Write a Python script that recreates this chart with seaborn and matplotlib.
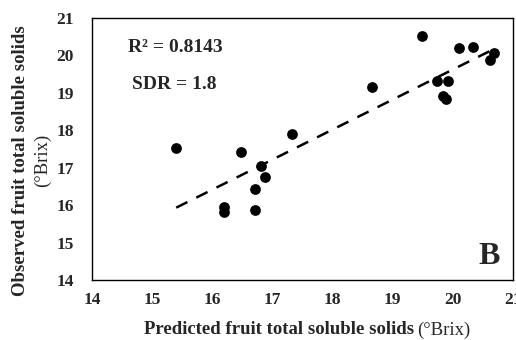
import matplotlib
matplotlib.use("Agg")
import matplotlib.pyplot as plt
import seaborn as sns
import pandas as pd

predicted = [15.40, 16.47, 17.32, 16.81, 16.88, 16.71, 16.71, 16.20, 16.20, 18.66,
             19.49, 19.73, 19.92, 19.84, 19.88, 20.11, 20.33, 20.62, 20.69]
observed = [17.52, 17.41, 17.89, 17.05, 16.74, 16.44, 15.87, 15.94, 15.83, 19.16,
            20.52, 19.32, 19.32, 18.91, 18.84, 20.21, 20.23, 19.89, 20.06]
x_ticks = [14, 15, 16, 17, 18, 19, 20, 21]
y_ticks = [14, 15, 16, 17, 18, 19, 20, 21]

df = pd.DataFrame({"predicted": predicted, "observed": observed})

sns.set_style("white")
plt.rcParams["font.family"] = ["Liberation Serif", "DejaVu Serif"]

fig = plt.figure(figsize=(5.16, 3.40), dpi=100)
ax = fig.add_axes([92/516, 60/340, (513-92)/516, (280-18)/340])

sns.regplot(data=df, x="predicted", y="observed", ax=ax, ci=None, truncate=True,
            scatter_kws=dict(s=60, color="black", edgecolor="black", linewidths=0, alpha=1),
            line_kws=dict(color="black", linestyle=(0, (5, 4)), linewidth=1.8))

ax.set_xlim(14, 21)
ax.set_ylim(14, 21)
ax.set_xticks(x_ticks)
ax.set_yticks(y_ticks)
ax.set_xticklabels([str(t) for t in x_ticks], fontweight="bold", fontsize=12.5)
ax.set_yticklabels([str(t) for t in y_ticks], fontweight="bold", fontsize=12.5)
ax.tick_params(axis="x", length=0, pad=9)
ax.tick_params(axis="y", length=0, pad=13)
ax.set_xlabel("")
ax.set_ylabel("")
for s in ax.spines.values():
    s.set_visible(True)
    s.set_color("black")
    s.set_linewidth(1.0)

ax.text(14.6, 20.2, "R² = 0.8143", fontsize=14, fontweight="bold", va="center", ha="left")
ax.text(14.66, 19.21, "SDR = 1.8", fontsize=14, fontweight="bold", va="center", ha="left")
ax.text(20.78, 14.25, "B", fontsize=23, fontweight="bold", va="bottom", ha="right")

fig.text(414/516, 1-330/340, "Predicted fruit total soluble solids", fontsize=13.5,
         fontweight="bold", ha="right", va="center")
fig.text(417/516, 1-330/340, "(°Brix)", fontsize=13.5, ha="left", va="center")
fig.text(21/516, 1-161/340, "Observed fruit total soluble solids", fontsize=13.5,
         fontweight="bold", ha="center", va="center", rotation=90)
fig.text(42/516, 1-160/340, "(°Brix)", fontsize=13.5, ha="center", va="center", rotation=90)

fig.savefig("out.png", dpi=100)
